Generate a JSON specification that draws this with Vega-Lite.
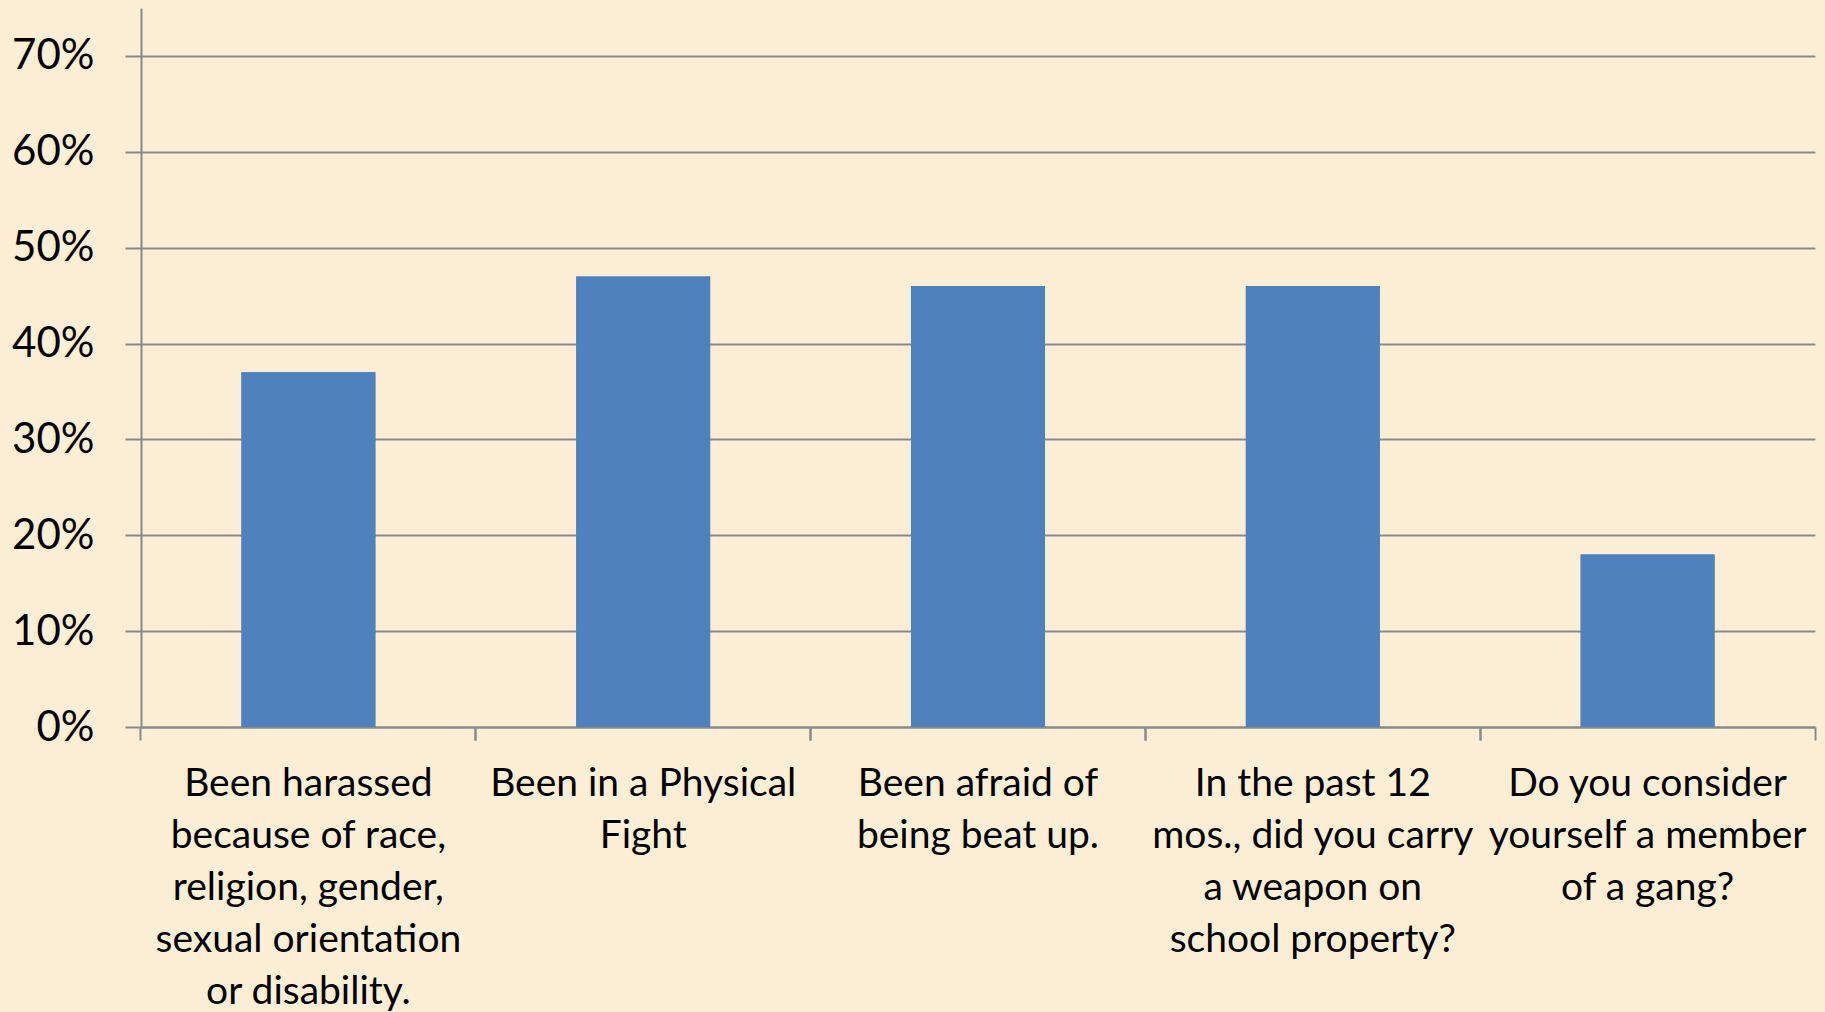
{
  "$schema": "https://vega.github.io/schema/vega-lite/v6.json",
  "width": 1674,
  "height": 719,
  "autosize": "none",
  "padding": {"left": 141, "top": 8, "right": 10, "bottom": 285},
  "background": "#FCEFD6",
  "config": {
    "view": {"stroke": null},
    "font": "Lato"
  },
  "data": {
    "values": [
      {"label": "Been harassed|because of race,|religion, gender,|sexual orientation|or disability.", "value": 0.37},
      {"label": "Been in a Physical|Fight", "value": 0.47},
      {"label": "Been afraid of|being beat up.", "value": 0.46},
      {"label": "In the past 12|mos., did you carry|a weapon on|school property?", "value": 0.46},
      {"label": "Do you consider|yourself a member|of a gang?", "value": 0.18}
    ]
  },
  "resolve": {"axis": {"x": "independent"}},
  "layer": [
    {
      "mark": {"type": "bar", "color": "#4F81BD"},
      "encoding": {
        "x": {
          "field": "label",
          "type": "nominal",
          "sort": null,
          "scale": {"paddingInner": 0.6, "paddingOuter": 0.3},
          "axis": {
            "orient": "bottom",
            "title": null,
            "labelAngle": 0,
            "labelExpr": "split(datum.label, '|')",
            "labelFontSize": 39,
            "labelLineHeight": 52,
            "labelColor": "#000000",
            "labelBaseline": "top",
            "labelPadding": 24,
            "labelLimit": 0,
            "labelOverlap": false,
            "bandPosition": -0.75,
            "tickSize": 13,
            "tickColor": "#8A8A8A",
            "tickWidth": 2,
            "domainColor": "#8A8A8A",
            "domainWidth": 2,
            "grid": false
          }
        },
        "y": {
          "field": "value",
          "type": "quantitative",
          "scale": {"domain": [0, 0.75], "nice": false},
          "axis": {
            "title": null,
            "values": [0, 0.1, 0.2, 0.3, 0.4, 0.5, 0.6, 0.7],
            "format": ".0%",
            "labelFontSize": 42,
            "labelColor": "#000000",
            "labelPadding": 31,
            "tickSize": 16,
            "tickColor": "#8A8A8A",
            "tickWidth": 2,
            "domainColor": "#8A8A8A",
            "domainWidth": 2,
            "grid": true,
            "gridColor": "#8A8A8A",
            "gridWidth": 2
          }
        }
      }
    },
    {
      "mark": {"type": "bar", "color": "#4F81BD"},
      "encoding": {
        "x": {
          "field": "label",
          "type": "nominal",
          "sort": null,
          "axis": {
            "orient": "bottom",
            "title": null,
            "labels": false,
            "domain": false,
            "grid": false,
            "bandPosition": 1.75,
            "tickSize": 13,
            "tickColor": "#8A8A8A",
            "tickWidth": 2
          }
        },
        "y": {"field": "value", "type": "quantitative"}
      }
    }
  ]
}
